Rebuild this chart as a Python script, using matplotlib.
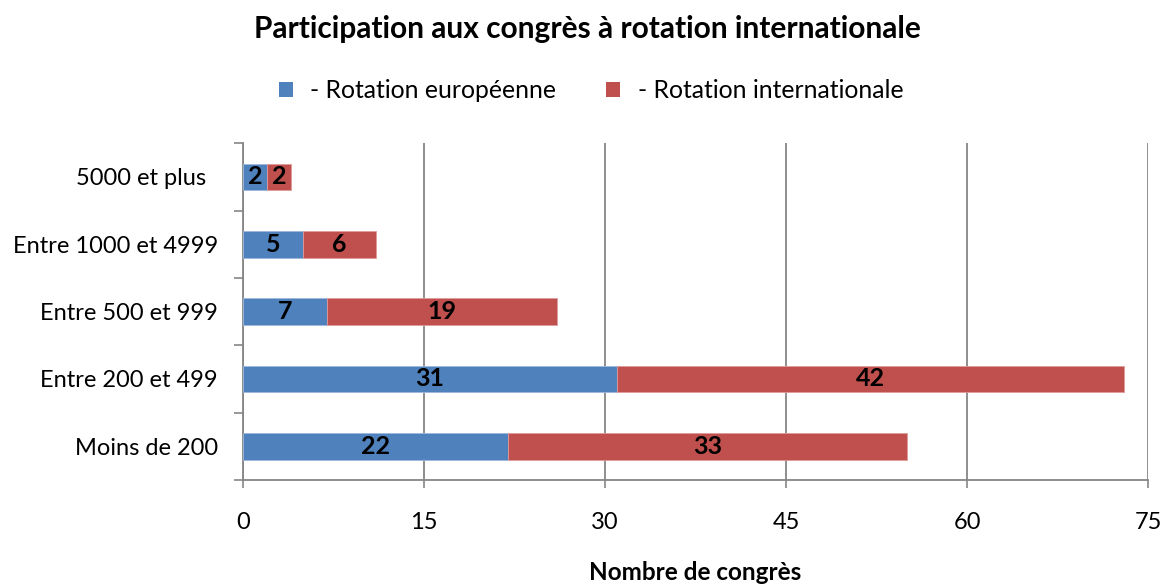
import matplotlib
matplotlib.use("Agg")
import matplotlib.pyplot as plt
from matplotlib.patches import Patch

plt.rcParams['font.family'] = ['Lato', 'DejaVu Sans']

categories = ["Moins de 200", "Entre 200 et 499", "Entre 500 et 999", "Entre 1000 et 4999", "5000 et plus  "]
europeenne = [22, 31, 7, 5, 2]
internationale = [33, 42, 19, 6, 2]
series_names = ["- Rotation européenne", "- Rotation internationale"]
xticks = [0, 15, 30, 45, 60, 75]

blue = "#4F81BD"
red = "#C0504D"
grid_c = "#868686"

fig = plt.figure(figsize=(11.64, 5.88), dpi=100)
ax = fig.add_axes([243/1164, 1-480/588, (1148-243)/1164, (480-143.3)/588])

y = list(range(len(categories)))
h = 0.4
b1 = ax.barh(y, europeenne, height=h, color=blue, edgecolor="#9DB9DD", linewidth=0.6, zorder=3)
b2 = ax.barh(y, internationale, left=europeenne, height=h, color=red, edgecolor="#DE9A98", linewidth=0.6, zorder=3)

for bars in (b1, b2):
    ax.bar_label(bars, labels=[str(int(r.get_width())) for r in bars], label_type='center',
                 fontsize=18, fontweight='bold', color='black', zorder=4)

ax.set_xlim(0, 75)
ax.set_ylim(-0.5, len(categories) - 0.5)
ax.set_xticks(xticks)
ax.set_xticklabels([str(v) for v in xticks], fontsize=17)
ax.set_yticks(y)
ax.set_yticklabels(categories, fontsize=17)
ax.set_yticks([i - 0.5 for i in range(len(categories) + 1)], minor=True)

ax.tick_params(axis='y', which='major', length=0, pad=18)
ax.tick_params(axis='y', which='minor', length=6.5, width=1.2, color=grid_c)
ax.tick_params(axis='x', which='major', length=6, width=1.2, color=grid_c, pad=17)

ax.xaxis.grid(True, color=grid_c, linewidth=1.3, zorder=0)
ax.set_axisbelow(True)
for s in ['top', 'right']:
    ax.spines[s].set_visible(False)
for s in ['left', 'bottom']:
    ax.spines[s].set_color(grid_c)
    ax.spines[s].set_linewidth(1.3)

ax.set_xlabel("Nombre de congrès", fontsize=17.5, fontweight='bold', labelpad=20)

fig.text(587/1164, 1-29/588, "Participation aux congrès à rotation internationale",
         ha='center', va='center', fontsize=21.5, fontweight='bold')

handles = [Patch(facecolor=blue, edgecolor='none'), Patch(facecolor=red, edgecolor='none')]
fig.legend(handles, series_names, loc='center', bbox_to_anchor=(591/1164, 1-91/588), ncol=2,
           frameon=False, fontsize=17.8, handlelength=0.58, handleheight=0.58, handletextpad=0.7,
           columnspacing=2.0)

fig.savefig("out.png", dpi=100)
